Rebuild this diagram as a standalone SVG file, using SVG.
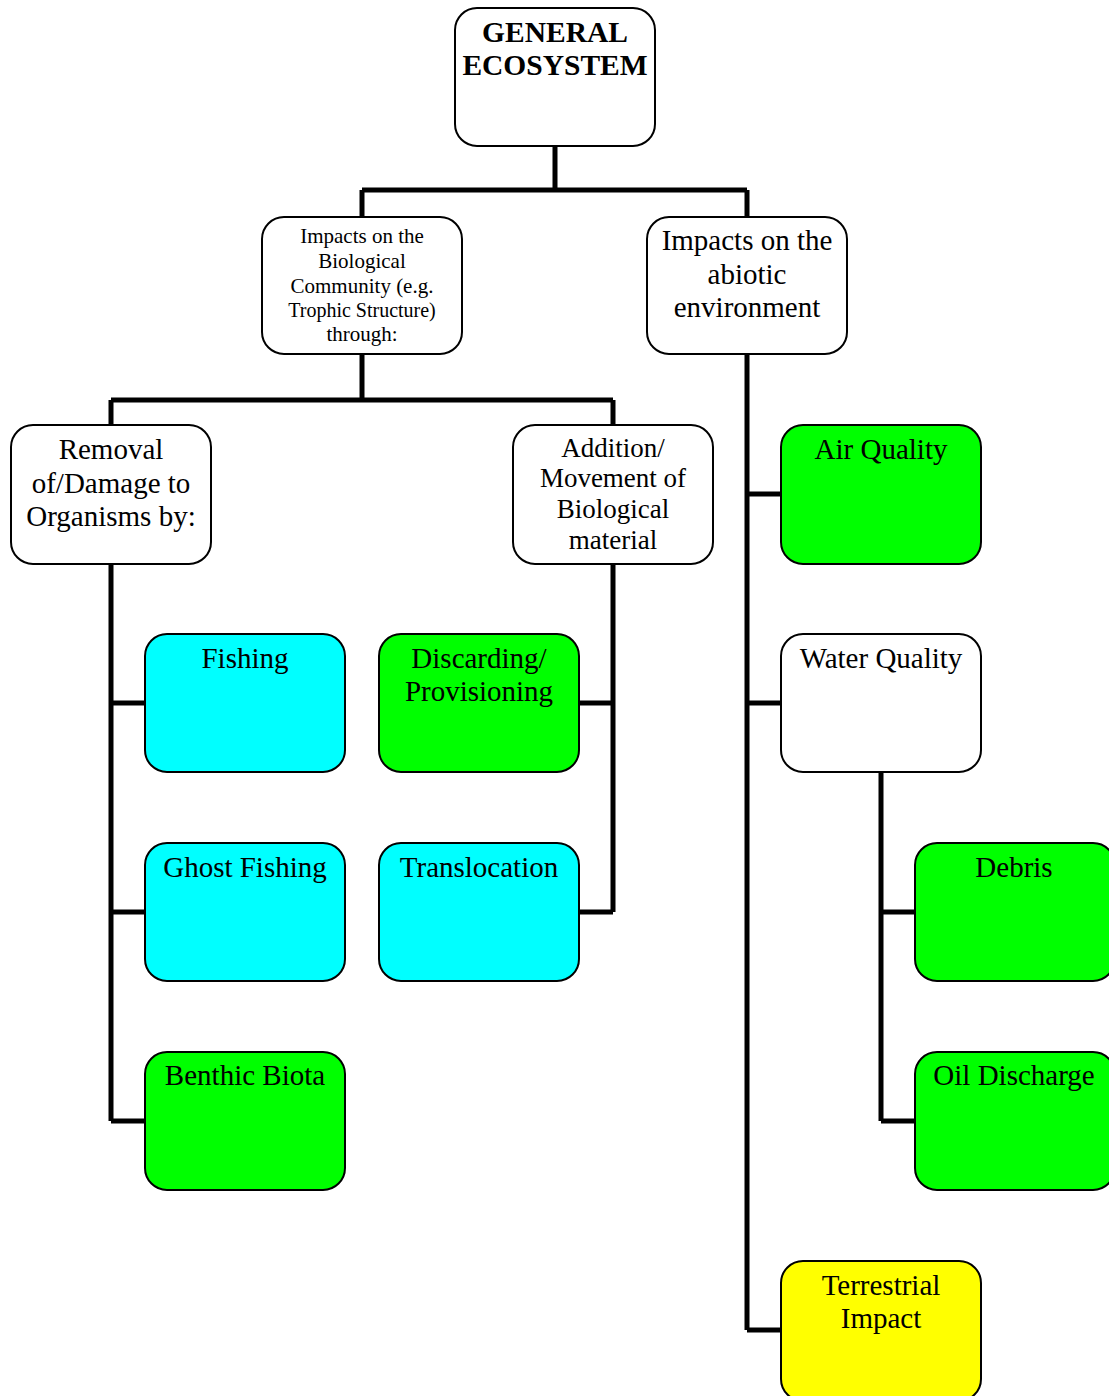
<svg xmlns="http://www.w3.org/2000/svg" width="1109" height="1396" viewBox="0 0 1109 1396">
  <style>
    .box { stroke: #000; stroke-width: 2; }
    .white { fill: #fff; }
    .green { fill: #00ff00; }
    .cyan { fill: #00ffff; }
    .yellow { fill: #ffff00; }
    .t { font-family: "Liberation Serif", "Times New Roman", serif; fill: #000; text-anchor: middle; }
    .lg { font-size: 29px; }
    .md { font-size: 27px; }
    .sm { font-size: 21px; }
    .hd { font-size: 29.5px; font-weight: bold; }
    .conn { stroke: #000; stroke-width: 5; fill: none; }
  </style>
  <rect width="1109" height="1396" fill="#fff"/>

  <g id="connectors">
    <path class="conn" d="M555 146 V190 M362 190 H747 M362 190 V217 M747 190 V217"/>
    <path class="conn" d="M362 354 V400 M111 400 H613 M111 400 V425 M613 400 V425"/>
    <path class="conn" d="M111 564 V1121 M111 703 H145 M111 912 H145 M111 1121 H145"/>
    <path class="conn" d="M613 564 V912 M579 703 H613 M579 912 H613"/>
    <path class="conn" d="M747 354 V1330 M747 494 H781 M747 703 H781 M747 1330 H781"/>
    <path class="conn" d="M881 772 V1121 M881 912 H915 M881 1121 H915"/>
  </g>

  <g id="general-ecosystem">
    <rect class="box white" x="455" y="8" width="200" height="138" rx="22"/>
    <text class="t hd" x="555" y="42">GENERAL</text>
    <text class="t hd" x="555" y="75">ECOSYSTEM</text>
  </g>

  <g id="biological-community">
    <rect class="box white" x="262" y="217" width="200" height="137" rx="22"/>
    <text class="t sm" x="362" y="243">Impacts on the</text>
    <text class="t sm" x="362" y="268">Biological</text>
    <text class="t sm" x="362" y="293">Community (e.g.</text>
    <text class="t" x="362" y="317" font-size="20">Trophic Structure)</text>
    <text class="t sm" x="362" y="341">through:</text>
  </g>

  <g id="abiotic-environment">
    <rect class="box white" x="647" y="217" width="200" height="137" rx="22"/>
    <text class="t lg" x="747" y="250">Impacts on the</text>
    <text class="t lg" x="747" y="284">abiotic</text>
    <text class="t lg" x="747" y="317">environment</text>
  </g>

  <g id="removal-damage">
    <rect class="box white" x="11" y="425" width="200" height="139" rx="22"/>
    <text class="t lg" x="111" y="459">Removal</text>
    <text class="t lg" x="111" y="493">of/Damage to</text>
    <text class="t lg" x="111" y="526">Organisms by:</text>
  </g>

  <g id="addition-movement">
    <rect class="box white" x="513" y="425" width="200" height="139" rx="22"/>
    <text class="t md" x="613" y="457">Addition/</text>
    <text class="t md" x="613" y="487">Movement of</text>
    <text class="t md" x="613" y="518">Biological</text>
    <text class="t md" x="613" y="549">material</text>
  </g>

  <g id="air-quality">
    <rect class="box green" x="781" y="425" width="200" height="139" rx="22"/>
    <text class="t lg" x="881" y="459">Air Quality</text>
  </g>

  <g id="fishing">
    <rect class="box cyan" x="145" y="634" width="200" height="138" rx="22"/>
    <text class="t lg" x="245" y="668">Fishing</text>
  </g>

  <g id="discarding-provisioning">
    <rect class="box green" x="379" y="634" width="200" height="138" rx="22"/>
    <text class="t lg" x="479" y="668">Discarding/</text>
    <text class="t lg" x="479" y="701">Provisioning</text>
  </g>

  <g id="water-quality">
    <rect class="box white" x="781" y="634" width="200" height="138" rx="22"/>
    <text class="t lg" x="881" y="668">Water Quality</text>
  </g>

  <g id="ghost-fishing">
    <rect class="box cyan" x="145" y="843" width="200" height="138" rx="22"/>
    <text class="t lg" x="245" y="877">Ghost Fishing</text>
  </g>

  <g id="translocation">
    <rect class="box cyan" x="379" y="843" width="200" height="138" rx="22"/>
    <text class="t lg" x="479" y="877">Translocation</text>
  </g>

  <g id="debris">
    <rect class="box green" x="915" y="843" width="200" height="138" rx="22"/>
    <text class="t lg" x="1014" y="877">Debris</text>
  </g>

  <g id="benthic-biota">
    <rect class="box green" x="145" y="1052" width="200" height="138" rx="22"/>
    <text class="t lg" x="245" y="1085">Benthic Biota</text>
  </g>

  <g id="oil-discharge">
    <rect class="box green" x="915" y="1052" width="200" height="138" rx="22"/>
    <text class="t lg" x="1014" y="1085">Oil Discharge</text>
  </g>

  <g id="terrestrial-impact">
    <rect class="box yellow" x="781" y="1261" width="200" height="140" rx="22"/>
    <text class="t lg" x="881" y="1295">Terrestrial</text>
    <text class="t lg" x="881" y="1328">Impact</text>
  </g>
</svg>
